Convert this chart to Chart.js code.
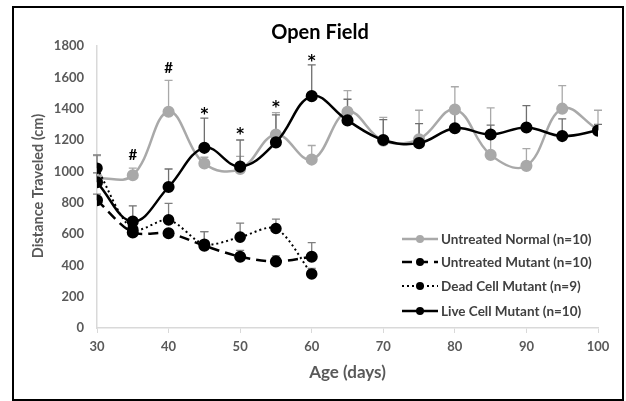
<!DOCTYPE html>
<html>
<head>
<meta charset="utf-8">
<title>Open Field</title>
<script src="https://cdn.jsdelivr.net/npm/chart.js@4.4.1/dist/chart.umd.min.js"></script>
<style>
    html, body { margin: 0; padding: 0; background: #fff; }
    #wrap { position: relative; width: 626px; height: 401px; }
    #wrap canvas { position: absolute; left: 0; top: 0; }
    #frame {
        position: absolute; left: 12px; top: 6px; width: 612px; height: 395px;
        border: 2px solid #000; box-sizing: border-box; pointer-events: none;
    }
</style>
</head>
<body>
<div id="wrap">
    <canvas id="fieldChart" width="626" height="401"></canvas>
    <div id="frame"></div>
</div>
<script>
// Data
const days = [30, 35, 40, 45, 50, 55, 60, 65, 70, 75, 80, 85, 90, 95, 100];
const earlyDays = [30, 35, 40, 45, 50, 55, 60];

const normalMean = [955, 975, 1380, 1050, 1015, 1235, 1075, 1380, 1195, 1205, 1395, 1105, 1035, 1400, 1265];
const normalErr = [145, 45, 200, 40, 80, 140, 90, 135, 150, 185, 145, 300, 110, 147, 125];

const untreatedMean = [815, 610, 605, 525, 455, 425, 455];
const untreatedErr = [40, 20, 20, 90, 40, 35, 90];

const deadMean = [1020, 630, 690, 535, 580, 635, 345];
const deadErr = [85, 20, 105, 80, 90, 60, 35];

const liveMean = [930, 680, 900, 1150, 1030, 1185, 1480, 1325, 1200, 1180, 1275, 1235, 1280, 1225, 1260];
const liveErr = [60, 100, 115, 190, 170, 175, 200, 135, 130, 125, 100, 60, 140, 110, 40];

const markDays = [35, 40, 45, 50, 55, 60];
const markSymbols = ['#', '#', '*', '*', '*', '*'];
const markLevels = [1105, 1660, 1390, 1260, 1430, 1727];

const yTicks = [0, 200, 400, 600, 800, 1000, 1200, 1400, 1600, 1800];

const FONT = 'Lato, "Open Sans", sans-serif';
const GRAY = '#a9a9a9';
const TEXT = '#595959';

function toPoints(xs, ys) {
    return xs.map((x, i) => ({ x: x, y: ys[i] }));
}

// upper error bars, drawn through the scales
const errorBars = {
    id: 'errorBars',
    beforeDatasetsDraw(chart) {
        const ctx = chart.ctx;
        const xs = chart.scales.x, ys = chart.scales.y;
        chart.data.datasets.forEach(ds => {
            ctx.save();
            ctx.strokeStyle = ds.errColor;
            ctx.lineWidth = 1.3;
            ds.data.forEach((p, i) => {
                const px = xs.getPixelForValue(p.x);
                const y0 = ys.getPixelForValue(p.y);
                const y1 = ys.getPixelForValue(p.y + ds.err[i]);
                ctx.beginPath();
                ctx.moveTo(px, y0);
                ctx.lineTo(px, y1);
                ctx.moveTo(px - 4, y1);
                ctx.lineTo(px + 4, y1);
                ctx.stroke();
            });
            ctx.restore();
        });
    }
};

// title, axis title, significance marks and legend
const extras = {
    id: 'extras',
    afterDraw(chart) {
        const ctx = chart.ctx;
        const xs = chart.scales.x, ys = chart.scales.y;
        const area = chart.chartArea;
        ctx.save();
        ctx.fillStyle = '#000';
        ctx.textAlign = 'center';
        ctx.textBaseline = 'middle';
        ctx.font = 'bold 20px ' + FONT;
        ctx.fillText('Open Field', 320, 33);

        // y axis title
        ctx.save();
        ctx.translate(38, (area.top + area.bottom) / 2 - 1);
        ctx.rotate(-Math.PI / 2);
        ctx.fillStyle = TEXT;
        ctx.font = 'bold 14.5px ' + FONT;
        ctx.fillText('Distance Traveled (cm)', 0, 0);
        ctx.restore();

        markDays.forEach((d, i) => {
            const px = xs.getPixelForValue(d);
            const py = ys.getPixelForValue(markLevels[i]);
            if (markSymbols[i] === '*') {
                ctx.font = 'bold 15px "DejaVu Sans", sans-serif';
                ctx.textBaseline = 'alphabetic';
                ctx.fillText('*', px, py + 8.5);
            } else {
                ctx.font = 'bold 15px ' + FONT;
                ctx.textBaseline = 'middle';
                ctx.fillText('#', px, py);
            }
        });

        const rows = [239, 262, 286, 311];
        const order = [4, 3, 2, 1];
        ctx.textAlign = 'left';
        ctx.textBaseline = 'middle';
        ctx.font = 'bold 13.5px ' + FONT;
        order.forEach((idx, r) => {
            const ds = chart.data.datasets.find(d => d.order === idx);
            const y = rows[r];
            ctx.strokeStyle = ds.borderColor;
            ctx.lineWidth = ds.borderWidth;
            ctx.setLineDash(ds.borderDash || []);
            ctx.beginPath();
            ctx.moveTo(402, y);
            ctx.lineTo(438, y);
            ctx.stroke();
            ctx.setLineDash([]);
            ctx.fillStyle = ds.pointBackgroundColor;
            ctx.beginPath();
            ctx.arc(420, y, 4, 0, Math.PI * 2);
            ctx.fill();
            ctx.fillStyle = '#404040';
            ctx.fillText(ds.label, 441, y + 1);
        });
        ctx.restore();
    }
};

const ctx = document.getElementById('fieldChart').getContext('2d');
const fieldChart = new Chart(ctx, {
    type: 'line',
    data: {
        datasets: [{
            label: 'Untreated Normal (n=10)',
            data: toPoints(days, normalMean),
            err: normalErr,
            errColor: GRAY,
            borderColor: GRAY,
            pointBackgroundColor: GRAY,
            pointBorderColor: GRAY,
            borderWidth: 2.5,
            tension: 0.4,
            order: 4
        }, {
            label: 'Untreated Mutant (n=10)',
            data: toPoints(earlyDays, untreatedMean),
            err: untreatedErr,
            errColor: '#7f7f7f',
            borderColor: '#000',
            pointBackgroundColor: '#000',
            pointBorderColor: '#000',
            borderWidth: 2.5,
            borderDash: [10, 6],
            tension: 0.3,
            order: 3
        }, {
            label: 'Dead Cell Mutant (n=9)',
            data: toPoints(earlyDays, deadMean),
            err: deadErr,
            errColor: '#7f7f7f',
            borderColor: '#000',
            pointBackgroundColor: '#000',
            pointBorderColor: '#000',
            borderWidth: 2,
            borderDash: [2, 3],
            tension: 0.3,
            order: 2
        }, {
            label: 'Live Cell Mutant (n=10)',
            data: toPoints(days, liveMean),
            err: liveErr,
            errColor: '#6f6f6f',
            borderColor: '#000',
            pointBackgroundColor: '#000',
            pointBorderColor: '#000',
            borderWidth: 2.5,
            tension: 0.4,
            order: 1
        }]
    },
    options: {
        responsive: false,
        animation: false,
        devicePixelRatio: 1,
        elements: { point: { radius: 4.8, borderWidth: 0 } },
        layout: { padding: { left: 0, right: 28, top: 46, bottom: 0 } },
        plugins: {
            legend: { display: false },
            title: { display: false },
            tooltip: { enabled: false }
        },
        scales: {
            x: {
                type: 'linear',
                min: 30,
                max: 100,
                afterFit: s => { s.height = 73; },
                ticks: {
                    stepSize: 10,
                    padding: 6,
                    color: TEXT,
                    font: { family: FONT, size: 13, weight: 'bold' }
                },
                grid: { drawOnChartArea: false, drawTicks: true, tickLength: 5, color: '#d9d9d9' },
                border: { color: '#d9d9d9', width: 1.5 },
                title: {
                    display: true,
                    text: 'Age (days)',
                    color: TEXT,
                    font: { family: FONT, size: 17, weight: 'bold' },
                    padding: { top: 0, bottom: 18 }
                }
            },
            y: {
                min: 0,
                max: 1800,
                afterFit: s => { s.width = 97; },
                afterBuildTicks: s => { s.ticks = yTicks.map(v => ({ value: v })); },
                ticks: {
                    padding: 13,
                    color: TEXT,
                    callback: v => String(v),
                    font: { family: FONT, size: 13, weight: 'bold' }
                },
                grid: { drawOnChartArea: false, drawTicks: false },
                border: { color: '#d9d9d9', width: 1.5 },
                title: { display: false }
            }
        }
    },
    plugins: [errorBars, extras]
});
</script>
</body>
</html>
